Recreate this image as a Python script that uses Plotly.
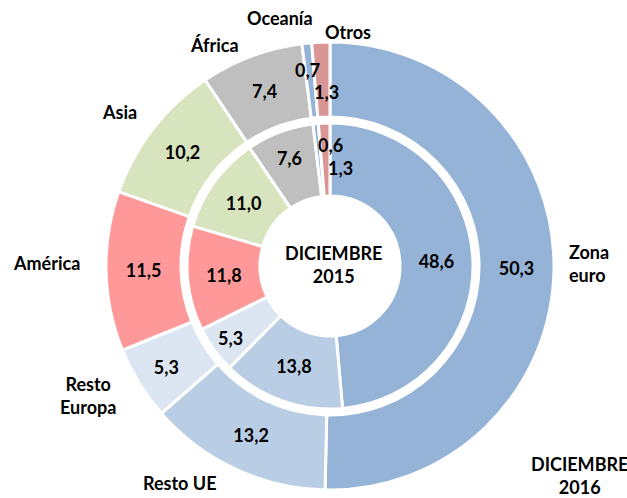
import plotly.graph_objects as go

# ---- data ----
categories = ["Zona euro", "Resto UE", "Resto Europa", "América", "Asia", "África", "Oceanía", "Otros"]
category_labels = ["Zona<br>euro", "Resto UE", "Resto<br>Europa", "América", "Asia", "África", "Oceanía", "Otros"]
values_2016 = [50.3, 13.2, 5.3, 11.5, 10.2, 7.4, 0.7, 1.3]
values_2015 = [48.6, 13.8, 5.3, 11.8, 11.0, 7.6, 0.6, 1.3]
center_label = "DICIEMBRE<br>2015"
outer_label = "DICIEMBRE<br>2016"

# ---- styles / layout ----
colors = ["#95B3D7", "#B9CDE5", "#DCE6F2", "#FF9999", "#D7E4BD", "#BFBFBF", "#95B3D7", "#D99694"]
W, H = 627, 498
FONT = dict(family="Lato", size=18, color="black", weight="bold")
CX, CY = 330, 266          # pie centre in pixels (from top-left)
R_OUT, R_OUT_IN = 224, 149
R_IN, R_IN_HOLE = 143, 70

def domain(r):
    cy = H - CY
    return dict(x=[(CX - r) / W, (CX + r) / W], y=[(cy - r) / H, (cy + r) / H])

small = [False, False, False, False, False, False, True, True]
tpos = ["none" if s else "inside" for s in small]

fig = go.Figure()
fig.add_trace(go.Pie(
    labels=categories, values=values_2016, sort=False, direction="clockwise", rotation=0,
    hole=R_OUT_IN / R_OUT, domain=domain(R_OUT),
    marker=dict(colors=colors, line=dict(color="white", width=3)),
    texttemplate="%{value:.1f}", textposition=tpos, insidetextorientation="horizontal",
    textfont=FONT, showlegend=False, name="2016",
))
fig.add_trace(go.Pie(
    labels=categories, values=values_2015, sort=False, direction="clockwise", rotation=0,
    hole=R_IN_HOLE / R_IN, domain=domain(R_IN),
    marker=dict(colors=colors, line=dict(color="white", width=3)),
    texttemplate="%{value:.1f}", textposition=tpos, insidetextorientation="horizontal",
    textfont=FONT, showlegend=False, name="2015",
))

def ann(x, y, text, align="center", xanchor="center"):
    return dict(x=x / W, y=1 - y / H, xref="paper", yref="paper", text=text, showarrow=False,
                font=FONT, align=align, xanchor=xanchor, yanchor="middle")

# category label positions (pixels)
cat_pos = [(567, 263), (180, 483), (88, 395), (47, 263), (119, 112), (215, 45), (280, 18), (348, 32)]
annotations = []
for lab, (x, y) in zip(category_labels, cat_pos):
    if "Zona" in lab:
        annotations.append(ann(x, y, lab, align="left", xanchor="left"))
    else:
        annotations.append(ann(x, y, lab))

# small-slice value labels
small_pos_2016 = {6: (307, 70), 7: (327, 92)}
small_pos_2015 = {6: (330, 145), 7: (340, 168)}
for i, (x, y) in small_pos_2016.items():
    annotations.append(ann(x, y, f"{values_2016[i]:.1f}".replace(".", ",")))
for i, (x, y) in small_pos_2015.items():
    annotations.append(ann(x, y, f"{values_2015[i]:.1f}".replace(".", ",")))

annotations.append(ann(333, 264, center_label))
annotations.append(ann(579, 475, outer_label))

fig.update_layout(
    width=W, height=H, margin=dict(l=0, r=0, t=0, b=0),
    paper_bgcolor="white", plot_bgcolor="white", separators=",.",
    annotations=annotations,
)
fig.write_html("out.html", config={"displayModeBar": False},
               post_script="document.body.style.margin='0';")
